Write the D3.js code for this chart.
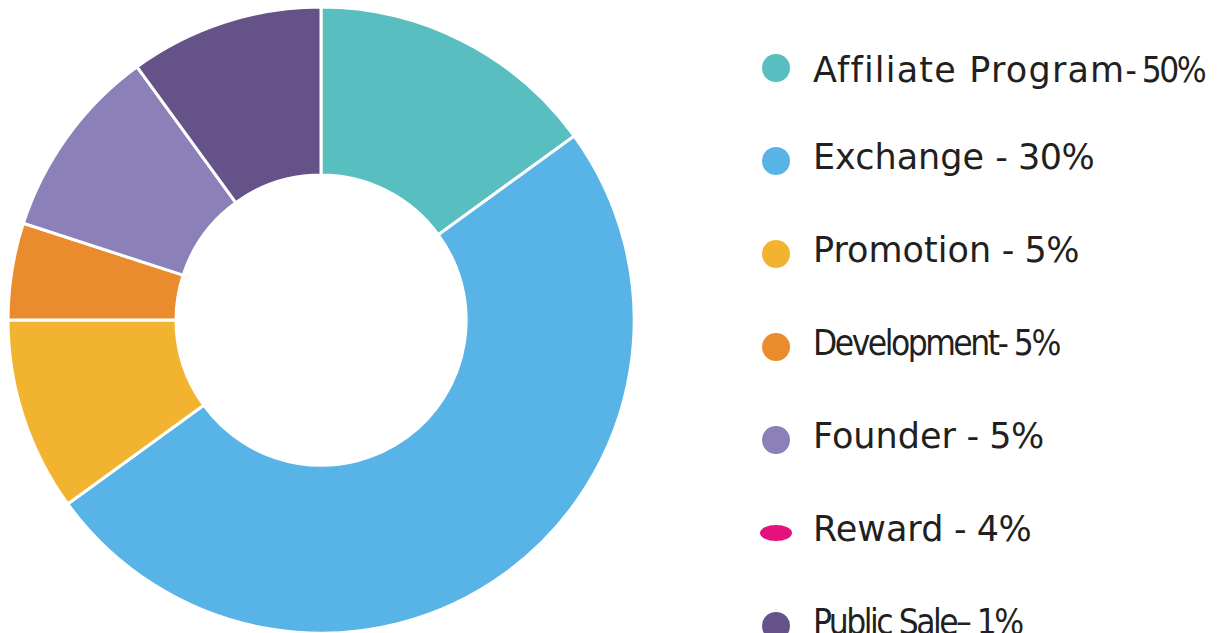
<!DOCTYPE html>
<html>
<head>
<meta charset="utf-8">
<script src="https://cdn.jsdelivr.net/npm/d3@7"></script>
<style>
  html, body { margin: 0; padding: 0; background: #fff; }
  svg { display: block; }
</style>
</head>
<body>
<script>
// slice shares (clockwise from 12 o'clock)
const sliceValues = [15, 50, 10, 5, 10, 10];

// legend rows as printed next to the chart
const legendLabels = ['Affiliate Program', 'Exchange ', 'Promotion', 'Development', 'Founder', 'Reward', 'Public Sale'];
const legendPcts = ['- 50%', '- 30%', '- 5%', '- 5%', '- 5%', '- 4%', '\u2013 1%'];

const sliceColors = ['#58bebf', '#58b4e6', '#f2b430', '#ea8c2e', '#8c80b8', '#655289'];
const legendColors = ['#58bebf', '#58b4e6', '#f2b430', '#ea8c2e', '#8c80b8', '#e5127d', '#655289'];

const width = 1231;
const height = 633;
const cx = 321, cy = 320;
const outerR = 313, innerR = 145;

const svg = d3.select('body')
  .append('svg')
  .attr('width', width)
  .attr('height', height);

const pie = d3.pie().sort(null).value(d => d);
const arc = d3.arc().innerRadius(innerR).outerRadius(outerR);

svg.append('g')
  .attr('transform', `translate(${cx},${cy})`)
  .selectAll('path')
  .data(pie(sliceValues))
  .join('path')
  .attr('d', arc)
  .attr('fill', (d, i) => sliceColors[i])
  .attr('stroke', '#fff')
  .attr('stroke-width', 3);

// legend
const rowY = d3.scaleLinear().domain([0, legendLabels.length - 1]).range([68, 626]);
const narrow = new Set(['Development', 'Public Sale']);

const rows = svg.append('g')
  .selectAll('g')
  .data(legendLabels)
  .join('g')
  .attr('transform', (d, i) => `translate(0,${rowY(i)})`);

rows.append('ellipse')
  .attr('cx', 776)
  .attr('rx', d => d === 'Reward' ? 16 : 14)
  .attr('ry', d => d === 'Reward' ? 8 : 14)
  .attr('fill', (d, i) => legendColors[i]);

const label = rows.append('text')
  .attr('x', 813)
  .attr('y', (d, i) => i === 0 ? 14 : 8)
  .attr('fill', '#231f20')
  .style('font-size', '35px');

label.append('tspan')
  .style('font-family', d => narrow.has(d) ? '"DejaVu Sans Condensed"' : '"DejaVu Sans"')
  .style('letter-spacing', d => narrow.has(d) ? '-2.5px' : d === 'Affiliate Program' ? '1.2px' : '0px')
  .text(d => d);

label.append('tspan')
  .style('font-family', (d, i) => (narrow.has(d) || i === 0) ? '"DejaVu Sans Condensed"' : '"DejaVu Sans"')
  .style('letter-spacing', (d, i) => (narrow.has(d) || i === 0) ? '-2.5px' : '-0.5px')
  .text((d, i) => (narrow.has(d) || i === 0 ? '' : ' ') + legendPcts[i]);
</script>
</body>
</html>
